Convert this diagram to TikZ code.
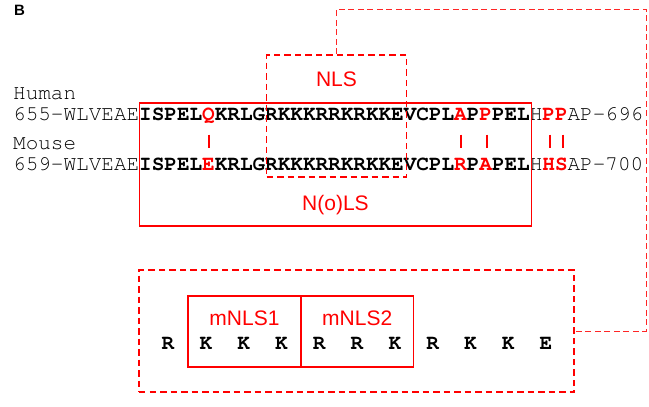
\documentclass[tikz,border=0pt]{standalone}
\usepackage[T1,TU]{fontenc}
\usepackage{fontspec}
\setsansfont{Liberation Sans}
\newfontfamily\labbold{Liberation Sans Bold}
\newcommand{\cour}{\fontencoding{T1}\fontfamily{pcr}\fontseries{m}\fontshape{n}\fontsize{21bp}{21bp}\selectfont}
\newcommand{\rb}[1]{\textcolor{red}{\bfseries #1}}
\tikzset{
  seq/.style={anchor=base west, inner sep=0, font=\cour},
  lab/.style={anchor=base, inner sep=0, text=red, font=\sffamily\fontsize{21bp}{21bp}\selectfont},
  solidbox/.style={draw=red, line width=1.6bp, inner sep=0, rectangle},
  dashbox/.style={draw=red, line width=1.8bp, dash pattern=on 6.5bp off 4bp, inner sep=0, rectangle},
  linkline/.style={draw=red!85, line width=0.9bp, dash pattern=on 6bp off 3.5bp},
  bar/.style={draw=red, line width=2bp},
}
\begin{document}
\begin{tikzpicture}[x=1bp,y=-1bp]
\useasboundingbox (0,0) rectangle (649,406);
\node[anchor=base west, inner sep=0, font=\labbold\fontsize{15bp}{15bp}\selectfont] (B) at (14,15.5) {B};
% sequences
\node[seq] (hlab) at (13,99) {Human};
\node[seq] (hseq) at (13,120.5) {655-WLVEAE{\bfseries ISPEL\rb{Q}KRLGRKKKRRKRKKEVCPL\rb{A}P\rb{P}PEL}H\rb{PP}AP-696};
\node[seq] (mlab) at (13,149) {Mouse};
\node[seq] (mseq) at (13,170.5) {659-WLVEAE{\bfseries ISPEL\rb{E}KRLGRKKKRRKRKKEVCPL\rb{R}P\rb{A}PEL}H\rb{HS}AP-700};
% conservation bars
\draw[bar] (208.5,134.5) -- (208.5,148);
\draw[bar] (461,134.5) -- (461,148);
\draw[bar] (486.5,134.5) -- (486.5,148);
\draw[bar] (550,134.5) -- (550,148);
\draw[bar] (562.5,134.5) -- (562.5,148);
% boxes
\node[solidbox, minimum width=392bp, minimum height=123bp] (nols) at (335.5,164.5) {};
\node[dashbox, minimum width=140bp, minimum height=122bp] (nls) at (336.5,116) {};
\node[lab] (nlslab) at (336.5,86) {NLS};
\node[lab] (noslab) at (335.5,210.7) {N(o)LS};
% bottom
\node[dashbox, minimum width=435bp, minimum height=122bp] (bot) at (356.5,331) {};
\node[solidbox, minimum width=113bp, minimum height=71bp] (m1) at (244.5,331.5) {};
\node[solidbox, minimum width=112.5bp, minimum height=71bp] (m2) at (357.25,331.5) {};
\node[lab] (m1lab) at (244.5,325) {mNLS1};
\node[lab] (m2lab) at (357.25,325) {mNLS2};
\foreach \c [count=\i] in {R,K,K,K,R,R,K,R,K,K,E}
  \node[anchor=base, inner sep=0, font=\cour\bfseries] (r\i) at ({168+37.8*(\i-1)},349) {\c};
% link connector
\coordinate (c2) at (646,9);
\draw[linkline] (nls.north) |- (c2) |- (bot.east);
\end{tikzpicture}
\end{document}
